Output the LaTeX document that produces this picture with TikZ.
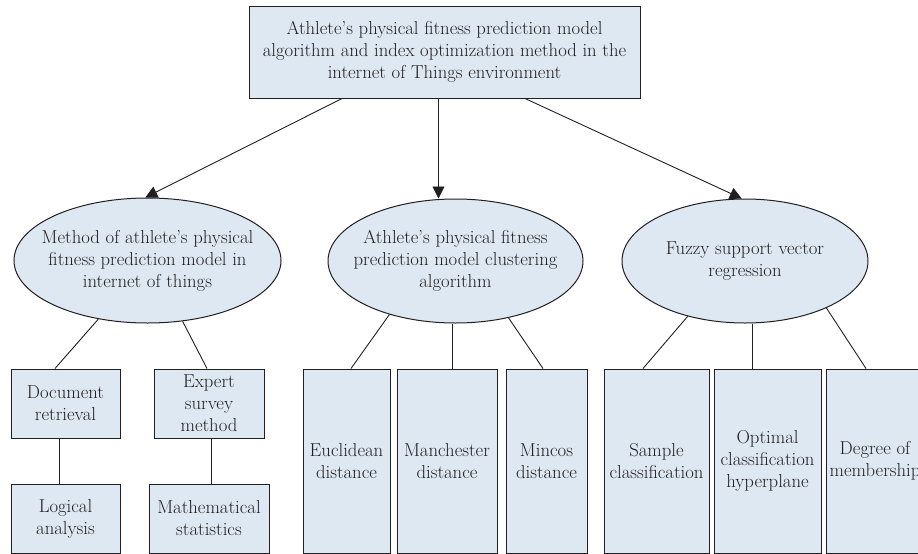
\documentclass[tikz,border=0pt]{standalone}
\usetikzlibrary{shapes.geometric,arrows.meta}
\definecolor{fillc}{HTML}{DDE8F3}
\definecolor{linec}{HTML}{231F20}
\begin{document}
\begin{tikzpicture}[x=1pt,y=-1pt,
  every node/.style={font=\fontsize{18.7}{22}\selectfont, text=linec},
  box/.style={draw=linec, fill=fillc, line width=1pt, align=center, inner sep=0pt},
  oval/.style={ellipse, draw=linec, fill=fillc, line width=1pt, inner sep=0pt},
  ovaltext/.style={align=center, inner sep=0pt},
  link/.style={draw=linec, line width=0.9pt},
  arr/.style={draw=linec, line width=0.9pt, -{Triangle[length=12pt,width=12pt]}}]
\useasboundingbox (0,0) rectangle (918,554);
\clip (0,0) rectangle (918,554);

% top box
\node[box, minimum width=391pt, minimum height=92pt] (T) at (444.5,52)
  {Athlete's physical fitness prediction model\\algorithm and index optimization method in the\\internet of Things environment};

% ellipses
\node[oval, minimum width=267pt, minimum height=125pt] (L) at (147.5,260.5) {};
\node[ovaltext] (Lt) at (L.center)
  {Method of athlete's physical\\fitness prediction model in\\internet of things};
\node[oval, minimum width=255pt, minimum height=124pt] (M) at (455.5,261) {};
\node[ovaltext] (Mt) at (M.center)
  {Athlete's physical fitness\\prediction model clustering\\algorithm};
\node[oval, minimum width=246pt, minimum height=124pt] (R) at (745,261) {};
\node[ovaltext] (Rt) at (R.center)
  {Fuzzy support vector\\regression};

% left branch boxes
\node[box, minimum width=109pt, minimum height=69pt] (doc) at (65.5,403.5) {Document\\retrieval};
\node[box, minimum width=110pt, minimum height=69pt] (exp) at (209,403.5) {Expert\\survey\\method};
\node[box, minimum width=109pt, minimum height=69pt] (log) at (65.5,518.5) {Logical\\analysis};
\node[box, minimum width=120pt, minimum height=69pt] (mat) at (209,518.5) {Mathematical\\statistics};

% middle branch boxes
\node[box, minimum width=87pt, minimum height=184pt] (euc) at (346.5,461) {Euclidean\\distance};
\node[box, minimum width=100pt, minimum height=184pt] (man) at (447,461) {Manchester\\distance};
\node[box, minimum width=81pt, minimum height=184pt] (minc) at (546.5,461) {Mincos\\distance};

% right branch boxes
\node[box, minimum width=105pt, minimum height=184pt] (sam) at (656.5,461) {Sample\\classification};
\node[box, minimum width=107pt, minimum height=184pt] (opt) at (767.5,461) {Optimal\\classification\\hyperplane};
\node[box, minimum width=98pt, minimum height=184pt] (deg) at (875,461) {Degree of\\membership};

% arrows from top box
\draw[arr] ([xshift=-102.5pt]T.south) -- (L.92);
\draw[arr] ([xshift=-6pt]T.south) -- ([xshift=-6pt]T.south |- M.north);
\draw[arr] ([xshift=80.5pt]T.south) -- (R.93);

% left branch links
\draw[link] (L.-130) -- ([xshift=-10.5pt]doc.north);
\draw[link] (L.-60) -- ([xshift=-2pt]exp.north);
\draw[link] ([xshift=-6.5pt]doc.south) -- ([xshift=-6.5pt]log.north);
\draw[link] ([xshift=2pt]exp.south) -- ([xshift=2pt]mat.north);

% middle branch links
\draw[link] (M.-141.75) -- ([xshift=4.5pt]euc.north);
\draw[link] ([xshift=-3.5pt]M.south) -- ([xshift=-3.5pt]M.south |- man.north);
\draw[link] (M.-47.4) -- ([xshift=-3.5pt]minc.north);

% right branch links
\draw[link] (R.-136) -- ([xshift=-13.5pt]sam.north);
\draw[link] ([xshift=7pt]R.south) -- ([xshift=7pt]R.south |- opt.north);
\draw[link] (R.-30.9) -- ([xshift=-9pt]deg.north);
\end{tikzpicture}
\end{document}
